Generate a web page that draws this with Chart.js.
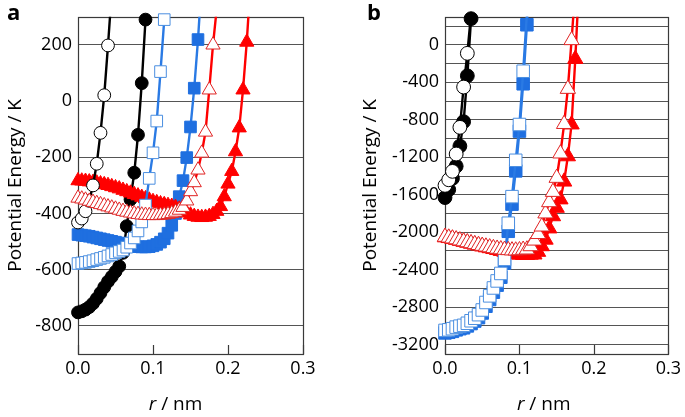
<!DOCTYPE html>
<html><head><meta charset="utf-8">
<script src="https://cdn.jsdelivr.net/npm/chart.js@4/dist/chart.umd.min.js"></script>
<style>
html,body{margin:0;padding:0;background:#fff;width:685px;height:417px;overflow:hidden}
canvas{position:absolute;top:0}
#ca{left:0}
#cb{left:345px}
</style></head><body>
<canvas id="ca" width="340" height="417"></canvas>
<canvas id="cb" width="340" height="417"></canvas>
<script>
// r grid (nm) shared by all series
const rGrid = [0,0.005,0.01,0.015,0.02,0.025,0.03,0.035,0.04,0.045,0.05,0.055,0.06,0.065,0.07,0.075,0.08,0.085,0.09,0.095,0.1,0.105,0.11,0.115,0.12,0.125,0.13,0.135,0.14,0.145,0.15,0.155,0.16,0.165,0.17,0.175,0.18,0.185,0.19,0.195,0.2,0.205,0.21,0.215,0.22,0.225,0.23];

// Panel a (K)
const aBlackOpen   = [-432,-418,-392,-355,-300,-223,-113,21,198,390];
const aBlackFilled = [-752,-748,-742,-733,-720,-703,-683,-662,-642,-625,-607,-588,-540,-445,-350,-255,-120,64,290,540];
const aBlueOpen    = [-578,-576,-574,-571,-568,-564,-560,-556,-551,-546,-540,-535,-530,-520,-505,-487,-462,-430,-370,-275,-184,-71,105,290,520];
const aBlueFilled  = [-475,-477,-479,-481,-484,-487,-490,-493,-496,-499,-502,-505,-508,-511,-514,-516,-518,-519,-519,-518,-515,-510,-502,-490,-470,-442,-400,-340,-283,-201,-92,46,219,430];
const aRedOpen     = [-345,-348,-352,-356,-360,-364,-368,-372,-376,-380,-384,-388,-392,-395,-398,-401,-403,-405,-406,-407,-407,-407,-406,-405,-403,-400,-395,-388,-378,-355,-322,-290,-245,-185,-110,40,200,330];
const aRedFilled   = [-283,-284,-285,-287,-289,-291,-294,-297,-300,-304,-308,-312,-317,-322,-327,-332,-337,-342,-347,-352,-357,-361,-365,-368,-371,-374,-378,-384,-391,-398,-405,-410,-413,-414,-413,-410,-403,-392,-375,-340,-295,-250,-180,-95,40,210,420];

// Panel b (K)
const bBlackOpen   = [-1500,-1440,-1350,-1165,-880,-450,-90,330];
const bBlackFilled = [-1630,-1545,-1425,-1295,-1080,-820,-330,280,800];
const bBlueOpen    = [-3048,-3042,-3030,-3013,-3003,-2994,-2972,-2945,-2918,-2880,-2830,-2750,-2679,-2595,-2520,-2440,-2290,-1904,-1620,-1232,-850,-281,330];
const bBlueFilled  = [-3075,-3068,-3058,-3042,-3030,-3020,-3000,-2975,-2948,-2912,-2862,-2790,-2718,-2640,-2565,-2480,-2330,-1990,-1700,-1345,-920,-415,215,850];
const bRedOpen     = [-2050,-2058,-2067,-2077,-2088,-2098,-2108,-2118,-2128,-2137,-2146,-2154,-2162,-2170,-2177,-2183,-2188,-2192,-2195,-2196,-2193,-2188,-2185,-2150,-2090,-2020,-1940,-1800,-1680,-1570,-1420,-1160,-845,-470,50,600];
const bRedFilled   = [-2055,-2063,-2072,-2082,-2093,-2103,-2113,-2123,-2133,-2143,-2153,-2162,-2171,-2180,-2190,-2200,-2210,-2220,-2228,-2235,-2240,-2243,-2243,-2240,-2238,-2210,-2150,-2080,-1960,-1830,-1740,-1650,-1460,-1190,-850,-150,650];

// Axis ticks
const xTicks  = [0, 0.1, 0.2, 0.3];
const yTicksA = [-800,-600,-400,-200,0,200];
const yGridB  = [-3200,-3000,-2800,-2600,-2400,-2200,-2000,-1800,-1600,-1400,-1200,-1000,-800,-600,-400,-200,0,200];
const yLabelsB = [-3200,-2800,-2400,-2000,-1600,-1200,-800,-400,0];

const FONT = '"Open Sans", "DejaVu Sans", sans-serif';
Chart.defaults.font.family = FONT;
Chart.defaults.color = '#000';

const ST = {
  blackOpen:   {shape:'circle',   r:6.4, fill:'#ffffff', edge:'#000000', line:'#000000'},
  blackFilled: {shape:'circle',   r:6.4, fill:'#000000', edge:'#000000', line:'#000000'},
  blueOpen:    {shape:'rect',     r:8.2, fill:'#ffffff', edge:'#4a8ee0', line:'#2a7ae4'},
  blueFilled:  {shape:'rect',     r:8.2, fill:'#1f6fe0', edge:'#1f6fe0', line:'#2a7ae4'},
  redOpen:     {shape:'triangle', r:8.2, fill:'#ffffff', edge:'#e02424', line:'#ff0000'},
  redFilled:   {shape:'triangle', r:8.2, fill:'#ff0000', edge:'#ff0000', line:'#ff0000'}
};

function buildDatasets(list, yMax, k) {
  const out = [];
  list.forEach(([ys, s]) => {
    const pts = ys.map((y, i) => ({x: rGrid[i], y}));
    out.push({data: pts.filter(p => p.y <= yMax), showLine:false, pointStyle:s.shape,
      pointRadius:s.r*k, pointHoverRadius:s.r*k, pointBackgroundColor:s.fill,
      pointBorderColor:s.edge, pointBorderWidth:1, clip:false});
    out.push({data: pts, showLine:true, pointRadius:0, pointHoverRadius:0,
      borderColor:s.line, borderWidth:2.4, tension:0,
      clip:{left:30, right:30, top:0, bottom:30}});
  });
  return out;
}

const deco = {
  id:'deco',
  beforeDatasetsDraw(chart, args, o) {
    const {ctx, chartArea:a} = chart;
    const x = chart.scales.x;
    ctx.save();
    ctx.strokeStyle = '#3a3a3a'; ctx.lineWidth = 1.2;
    ctx.beginPath();
    xTicks.forEach(v => {
      const px = Math.round(x.getPixelForValue(v)) + 0.5;
      ctx.moveTo(px, a.bottom); ctx.lineTo(px, a.bottom - 9);
    });
    ctx.stroke();
    ctx.strokeRect(Math.round(a.left)+0.5, Math.round(a.top)+0.5, Math.round(a.right-a.left), Math.round(a.bottom-a.top));
    ctx.restore();
  },
  afterDraw(chart, args, o) {
    const {ctx, chartArea:a} = chart;
    ctx.save();
    ctx.fillStyle = '#000';
    ctx.textAlign = 'left';
    ctx.textBaseline = 'middle';
    const cx = (a.left + a.right)/2 + o.titleShift;
    const ty = a.bottom + 51;
    ctx.font = 'italic 19px ' + FONT; const w1 = ctx.measureText('r').width;
    ctx.font = '19px ' + FONT; const w2 = ctx.measureText(' / nm').width;
    const x0 = cx - (w1 + w2)/2;
    ctx.font = 'italic 19px ' + FONT; ctx.fillText('r', x0, ty);
    ctx.font = '19px ' + FONT; ctx.fillText(' / nm', x0 + w1, ty);
    ctx.font = 'bold 22px ' + FONT; ctx.textBaseline = 'alphabetic';
    ctx.fillText(o.letter, o.letterX, 20);
    ctx.restore();
  }
};

function makeChart(id, cfg) {
  return new Chart(document.getElementById(id), {
    type:'scatter',
    data:{datasets: cfg.datasets},
    plugins:[deco],
    options:{
      responsive:false, animation:false, events:[],
      layout:{padding:{left:0, top:14, right:cfg.padRight, bottom:0}},
      plugins:{legend:{display:false}, tooltip:{enabled:false},
        deco:{letter:cfg.letter, letterX:cfg.letterX, titleShift:cfg.titleShift}},
      scales:{
        x:{type:'linear', min:0, max:0.3,
          afterBuildTicks: s => { s.ticks = xTicks.map(v => ({value:v})); },
          afterFit: s => { s.height = 63; },
          ticks:{callback: v => Number(v).toFixed(1), font:{size:18}, color:'#000', padding:4, maxRotation:0},
          grid:{display:false, drawTicks:false}, border:{display:false}},
        y:{type:'linear', min:cfg.yMin, max:cfg.yMax,
          afterBuildTicks: s => { s.ticks = cfg.yGrid.map(v => ({value:v})); },
          afterFit: s => { s.width = cfg.yWidth; },
          ticks:{callback: cfg.yLabel, font:{size:18}, color:'#000', padding:6, autoSkip:false},
          grid:{color:'#555555', lineWidth:1, drawTicks:false}, border:{display:false},
          title:{display:true, text:'Potential Energy / K', font:{size:19}, color:'#000', padding:{top:cfg.titlePad, bottom:0}}}
      }
    }
  });
}

makeChart('ca', {
  datasets: buildDatasets([
    [aRedOpen, ST.redOpen], [aBlueOpen, ST.blueOpen], [aBlackOpen, ST.blackOpen],
    [aRedFilled, ST.redFilled], [aBlueFilled, ST.blueFilled], [aBlackFilled, ST.blackFilled]
  ], 300, 1),
  yMin:-900, yMax:300, yGrid:yTicksA, yLabel: v => String(v),
  yWidth:78, padRight:37, titlePad:4, letter:'a', letterX:7, titleShift:-15
});
makeChart('cb', {
  datasets: buildDatasets([
    [bRedOpen, ST.redOpen], [bBlueOpen, ST.blueOpen], [bBlackOpen, ST.blackOpen],
    [bRedFilled, ST.redFilled], [bBlueFilled, ST.blueFilled], [bBlackFilled, ST.blackFilled]
  ], 300, 1.08),
  yMin:-3300, yMax:300, yGrid:yGridB, yLabel: v => (yLabelsB.includes(v) ? String(v) : ''),
  yWidth:100, padRight:15, titlePad:14, letter:'b', letterX:22, titleShift:-13
});
</script>
</body></html>
